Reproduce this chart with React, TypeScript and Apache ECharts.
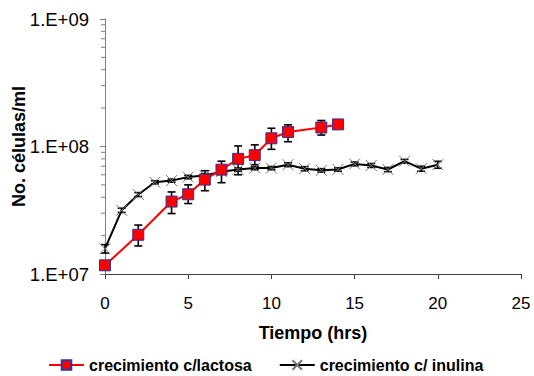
import React, { useEffect, useRef } from "react";
import * as echarts from "echarts";

// Growth time course (hours) and cell counts per ml
const hours = [0, 1, 2, 3, 4, 5, 6, 7, 8, 9, 10, 11, 12, 13, 14, 15, 16, 17, 18, 19, 20];
const inulina = [
  1.58e7, 3.16e7, 4.2e7, 5.24e7, 5.4e7, 5.76e7, 5.93e7, 6.34e7, 6.6e7, 6.77e7, 6.77e7,
  7.2e7, 6.7e7, 6.5e7, 6.6e7, 7.3e7, 7.1e7, 6.6e7, 7.67e7, 6.7e7, 7.2e7,
];
const inulinaSd = [
  1.2e6, 1.2e6, 1.5e6, 1.5e6, 1.5e6, 1.8e6, 2.0e6, 2.0e6, 2.0e6, 2.0e6, 2.0e6,
  2.5e6, 2.5e6, 2.0e6, 2.0e6, 2.5e6, 2.5e6, 2.5e6, 2.5e6, 3.0e6, 4.5e6,
];

const lactosaHours = [0, 2, 4, 5, 6, 7, 8, 9, 10, 11, 13, 14];
const lactosa = [1.17e7, 2.03e7, 3.7e7, 4.22e7, 5.5e7, 6.58e7, 8.0e7, 8.55e7, 1.16e8, 1.3e8, 1.41e8, 1.49e8];
const lactosaLow = [1.17e7, 1.66e7, 2.98e7, 3.57e7, 4.5e7, 5.2e7, 6.0e7, 7.2e7, 9.5e7, 1.09e8, 1.23e8, 1.49e8];
const lactosaHigh = [1.17e7, 2.42e7, 4.4e7, 5.0e7, 6.46e7, 7.67e7, 1.01e8, 1.03e8, 1.39e8, 1.48e8, 1.6e8, 1.49e8];

// Minor ticks of the logarithmic axis
const minorTicks = [
  2e7, 3e7, 4e7, 5e7, 6e7, 7e7, 8e7, 9e7,
  2e8, 3e8, 4e8, 5e8, 6e8, 7e8, 8e8, 9e8,
];

const FONT = "Arial, 'Liberation Sans', sans-serif";

export default function App() {
  const ref = useRef<HTMLDivElement>(null);

  useEffect(() => {
    if (!ref.current) return;
    const chart = echarts.init(ref.current, null, { renderer: "svg" });

    const errData = [
      ...lactosaHours.map((h, i) => [h, lactosaLow[i], lactosaHigh[i]]),
      ...hours.map((h, i) => [h, inulina[i] - inulinaSd[i], inulina[i] + inulinaSd[i]]),
    ];

    const errorBars = (params: any, api: any) => {
      const x = api.value(0);
      const lo = api.value(1);
      const hi = api.value(2);
      if (lo === hi) return { type: "group", children: [] };
      const top = api.coord([x, hi]);
      const bot = api.coord([x, lo]);
      const w = 4;
      const style = { stroke: "#000", lineWidth: 1.6 };
      return {
        type: "group",
        children: [
          { type: "line", shape: { x1: top[0], y1: top[1], x2: bot[0], y2: bot[1] }, style },
          { type: "line", shape: { x1: top[0] - w, y1: top[1], x2: top[0] + w, y2: top[1] }, style },
          { type: "line", shape: { x1: bot[0] - w, y1: bot[1], x2: bot[0] + w, y2: bot[1] }, style },
        ],
      };
    };

    const minorTickItem = (params: any, api: any) => {
      const p = api.coord([api.value(0), api.value(1)]);
      return {
        type: "line",
        shape: { x1: p[0] - 4, y1: p[1], x2: p[0], y2: p[1] },
        style: { stroke: "#808080", lineWidth: 1 },
      };
    };

    chart.setOption({
      animation: false,
      backgroundColor: "#fff",
      grid: { left: 105, right: 13, top: 19, bottom: 102, outerBoundsMode: "none" },
      xAxis: {
        type: "value",
        min: 0,
        max: 25,
        interval: 5,
        name: "Tiempo (hrs)",
        nameLocation: "middle",
        nameGap: 50,
        nameTextStyle: { fontFamily: FONT, fontSize: 18, fontWeight: "bold", color: "#000" },
        axisLine: { onZero: false, lineStyle: { color: "#404040", width: 1 } },
        axisTick: { show: true, length: 5, lineStyle: { color: "#404040" } },
        axisLabel: { margin: 21, fontFamily: FONT, fontSize: 17, color: "#000" },
        splitLine: { show: false },
      },
      yAxis: {
        type: "log",
        logBase: 10,
        min: 1e7,
        max: 1e9,
        name: "No. células/ml",
        nameLocation: "middle",
        nameRotate: 90,
        nameGap: 77,
        nameMoveOverlap: false,
        nameTextStyle: { fontFamily: FONT, fontSize: 18, fontWeight: "bold", color: "#000" },
        axisLine: { show: true, lineStyle: { color: "#808080", width: 1 } },
        axisTick: { show: true, length: 5, lineStyle: { color: "#808080" } },
        axisLabel: {
          margin: 16,
          fontFamily: FONT,
          fontSize: 18.5,
          color: "#000",
          formatter: (v: number) => "1.E+" + String(Math.round(Math.log10(v))).padStart(2, "0"),
        },
        splitLine: { show: false },
      },
      legend: {
        left: 43,
        top: 352,
        itemWidth: 35,
        itemHeight: 12,
        itemGap: 27,
        textStyle: { fontFamily: FONT, fontSize: 16, fontWeight: "bold", color: "#000" },
        data: ["crecimiento c/lactosa", "crecimiento c/ inulina"],
      },
      series: [
        {
          type: "custom",
          name: "ticks",
          renderItem: minorTickItem,
          data: minorTicks.map((v) => [0, v]),
          encode: { x: 0, y: 1 },
          clip: false,
          silent: true,
          z: 1,
        },
        {
          type: "custom",
          name: "error",
          renderItem: errorBars,
          data: errData,
          encode: { x: 0, y: [1, 2] },
          silent: true,
          z: 2,
        },
        {
          type: "line",
          name: "crecimiento c/ inulina",
          data: hours.map((h, i) => [h, inulina[i]]),
          symbol: "path://M0,0L10,10M10,0L0,10",
          symbolSize: 11,
          showAllSymbol: true,
          itemStyle: { color: "#777", borderColor: "#777", borderWidth: 1 },
          lineStyle: { color: "#000", width: 2 },
          z: 3,
        },
        {
          type: "line",
          name: "crecimiento c/lactosa",
          data: lactosaHours.map((h, i) => [h, lactosa[i]]),
          symbol: "rect",
          symbolSize: 11,
          showAllSymbol: true,
          itemStyle: { color: "#ff0000", borderColor: "#333399", borderWidth: 1 },
          lineStyle: { color: "#ff0000", width: 2 },
          z: 4,
        },
      ],
    });

    return () => chart.dispose();
  }, []);

  return (
    <div
      ref={ref}
      style={{ position: "fixed", left: 0, top: 0, width: 534, height: 376, background: "#fff" }}
    />
  );
}
